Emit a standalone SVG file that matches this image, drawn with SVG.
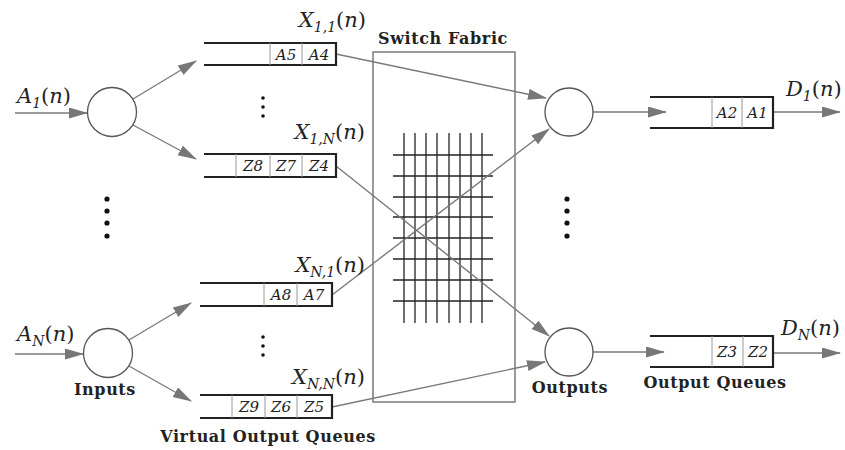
<svg xmlns="http://www.w3.org/2000/svg" width="845" height="450" viewBox="0 0 845 450">
<defs>
<marker id="ah" markerUnits="userSpaceOnUse" markerWidth="20" markerHeight="12" refX="18" refY="5.5" orient="auto">
<path d="M0,0 L19,5.5 L0,11 z" fill="#777"/>
</marker>
<style>
.conn{stroke:#7a7a7a;stroke-width:1.4;fill:none;marker-end:url(#ah)}
.node{fill:#fff;stroke:#555;stroke-width:1.3}
.qe{stroke:#222;stroke-width:2.2;fill:none}
.qd{stroke:#999;stroke-width:1}
.cell{font-family:"DejaVu Serif","Liberation Serif",serif;font-style:italic;font-size:15px;fill:#222;text-anchor:middle}
.math{font-family:"DejaVu Serif","Liberation Serif",serif;font-size:21px;fill:#222}
.it{font-style:italic}
.sub{font-size:14px;font-style:italic}
.lbl{font-family:"DejaVu Serif","Liberation Serif",serif;font-weight:bold;font-size:16px;letter-spacing:0.6px;fill:#222;text-anchor:middle}
.grid{stroke:#222;stroke-width:1.3}
.dot{fill:#111}
</style>
</defs>
<rect width="845" height="450" fill="#fff"/>

<g id="switch-fabric">
<rect x="373" y="52" width="142" height="350" fill="none" stroke="#666" stroke-width="1.3"/>
<text class="lbl" x="443" y="44">Switch Fabric</text>
<g class="grid">
<line x1="404" y1="133" x2="404" y2="323"/>
<line x1="415" y1="133" x2="415" y2="323"/>
<line x1="426" y1="133" x2="426" y2="323"/>
<line x1="437" y1="133" x2="437" y2="323"/>
<line x1="449" y1="133" x2="449" y2="323"/>
<line x1="460" y1="133" x2="460" y2="323"/>
<line x1="471" y1="133" x2="471" y2="323"/>
<line x1="482" y1="133" x2="482" y2="323"/>
<line x1="393" y1="155" x2="493" y2="155"/>
<line x1="393" y1="176" x2="493" y2="176"/>
<line x1="393" y1="197" x2="493" y2="197"/>
<line x1="393" y1="217" x2="493" y2="217"/>
<line x1="393" y1="238" x2="493" y2="238"/>
<line x1="393" y1="259" x2="493" y2="259"/>
<line x1="393" y1="280" x2="493" y2="280"/>
<line x1="393" y1="301" x2="493" y2="301"/>
</g>
</g>

<g id="connectors">
<line class="conn" x1="15" y1="113" x2="87" y2="113"/>
<line class="conn" x1="133" y1="99" x2="196" y2="61"/>
<line class="conn" x1="133" y1="125" x2="196" y2="159"/>
<line class="conn" x1="15" y1="354" x2="83" y2="354"/>
<line class="conn" x1="129" y1="340" x2="191" y2="303"/>
<line class="conn" x1="129" y1="366" x2="191" y2="401"/>
<line class="conn" x1="336" y1="54" x2="546" y2="98"/>
<line class="conn" x1="336" y1="166" x2="549" y2="336"/>
<line class="conn" x1="332" y1="295" x2="549" y2="129"/>
<line class="conn" x1="332" y1="407" x2="545" y2="362"/>
<line class="conn" x1="593" y1="112" x2="666" y2="112"/>
<line class="conn" x1="593" y1="352" x2="664" y2="352"/>
<line class="conn" x1="773" y1="112" x2="840" y2="112"/>
<line class="conn" x1="773" y1="353" x2="840" y2="353"/>
</g>

<g id="input-1">
<circle class="node" cx="112" cy="112" r="24.5"/>
<text class="math" x="17" y="103"><tspan class="it">A</tspan><tspan class="sub" dy="5">1</tspan><tspan dy="-5">(</tspan><tspan class="it">n</tspan>)</text>
</g>

<g id="input-N">
<circle class="node" cx="108" cy="353" r="24.5"/>
<text class="math" x="17" y="341"><tspan class="it">A</tspan><tspan class="sub" dy="5">N</tspan><tspan dy="-5">(</tspan><tspan class="it">n</tspan>)</text>
<text class="lbl" x="105" y="395">Inputs</text>
</g>

<g id="voq-1-1">
<line class="qe" x1="204" y1="43" x2="337" y2="43"/>
<line class="qe" x1="204" y1="65" x2="337" y2="65"/>
<line class="qe" x1="336" y1="42" x2="336" y2="66"/>
<line class="qd" x1="270" y1="43" x2="270" y2="65"/>
<line class="qd" x1="302" y1="43" x2="302" y2="65"/>
<text class="cell" x="286" y="59.5">A5</text>
<text class="cell" x="319" y="59.5">A4</text>
<text class="math" x="366" y="27" text-anchor="end"><tspan class="it">X</tspan><tspan class="sub" dy="5">1,1</tspan><tspan dy="-5">(</tspan><tspan class="it">n</tspan>)</text>
</g>

<g id="voq-1-N">
<line class="qe" x1="204" y1="154" x2="337" y2="154"/>
<line class="qe" x1="204" y1="177" x2="337" y2="177"/>
<line class="qe" x1="336" y1="153" x2="336" y2="178"/>
<line class="qd" x1="236" y1="154" x2="236" y2="177"/>
<line class="qd" x1="270" y1="154" x2="270" y2="177"/>
<line class="qd" x1="302" y1="154" x2="302" y2="177"/>
<text class="cell" x="253" y="171">Z8</text>
<text class="cell" x="286" y="171">Z7</text>
<text class="cell" x="319" y="171">Z4</text>
<text class="math" x="365" y="139" text-anchor="end"><tspan class="it">X</tspan><tspan class="sub" dy="5">1,N</tspan><tspan dy="-5">(</tspan><tspan class="it">n</tspan>)</text>
</g>

<g id="voq-N-1">
<line class="qe" x1="200" y1="283" x2="333" y2="283"/>
<line class="qe" x1="200" y1="306" x2="333" y2="306"/>
<line class="qe" x1="332" y1="282" x2="332" y2="307"/>
<line class="qd" x1="264" y1="283" x2="264" y2="306"/>
<line class="qd" x1="297" y1="283" x2="297" y2="306"/>
<text class="cell" x="281" y="300">A8</text>
<text class="cell" x="314" y="300">A7</text>
<text class="math" x="365" y="272" text-anchor="end"><tspan class="it">X</tspan><tspan class="sub" dy="5">N,1</tspan><tspan dy="-5">(</tspan><tspan class="it">n</tspan>)</text>
</g>

<g id="voq-N-N">
<line class="qe" x1="200" y1="395" x2="333" y2="395"/>
<line class="qe" x1="200" y1="418" x2="333" y2="418"/>
<line class="qe" x1="332" y1="394" x2="332" y2="419"/>
<line class="qd" x1="232" y1="395" x2="232" y2="418"/>
<line class="qd" x1="265" y1="395" x2="265" y2="418"/>
<line class="qd" x1="297" y1="395" x2="297" y2="418"/>
<text class="cell" x="249" y="412">Z9</text>
<text class="cell" x="281" y="412">Z6</text>
<text class="cell" x="314" y="412">Z5</text>
<text class="math" x="365" y="384" text-anchor="end"><tspan class="it">X</tspan><tspan class="sub" dy="5">N,N</tspan><tspan dy="-5">(</tspan><tspan class="it">n</tspan>)</text>
<text class="lbl" x="268" y="442">Virtual Output Queues</text>
</g>

<g id="output-1">
<circle class="node" cx="569" cy="112" r="24"/>
</g>

<g id="output-N">
<circle class="node" cx="569" cy="352" r="24"/>
<text class="lbl" x="570" y="393">Outputs</text>
</g>

<g id="oq-1">
<line class="qe" x1="650" y1="97" x2="774" y2="97"/>
<line class="qe" x1="650" y1="128" x2="774" y2="128"/>
<line class="qe" x1="773" y1="96" x2="773" y2="129"/>
<line class="qd" x1="712" y1="97" x2="712" y2="128"/>
<line class="qd" x1="742" y1="97" x2="742" y2="128"/>
<text class="cell" x="727" y="118">A2</text>
<text class="cell" x="757.5" y="118">A1</text>
<text class="math" x="786" y="96"><tspan class="it">D</tspan><tspan class="sub" dy="5">1</tspan><tspan dy="-5">(</tspan><tspan class="it">n</tspan>)</text>
</g>

<g id="oq-N">
<line class="qe" x1="650" y1="336" x2="774" y2="336"/>
<line class="qe" x1="650" y1="367" x2="774" y2="367"/>
<line class="qe" x1="773" y1="335" x2="773" y2="368"/>
<line class="qd" x1="712" y1="336" x2="712" y2="367"/>
<line class="qd" x1="743" y1="336" x2="743" y2="367"/>
<text class="cell" x="727" y="357">Z3</text>
<text class="cell" x="758" y="357">Z2</text>
<text class="math" x="781" y="335"><tspan class="it">D</tspan><tspan class="sub" dy="5">N</tspan><tspan dy="-5">(</tspan><tspan class="it">n</tspan>)</text>
<text class="lbl" x="715" y="388">Output Queues</text>
</g>

<g id="ellipses">
<circle class="dot" cx="107" cy="199" r="2.6"/>
<circle class="dot" cx="107" cy="211" r="2.6"/>
<circle class="dot" cx="107" cy="223" r="2.6"/>
<circle class="dot" cx="107" cy="236" r="2.6"/>
<circle class="dot" cx="567" cy="199" r="2.6"/>
<circle class="dot" cx="567" cy="211" r="2.6"/>
<circle class="dot" cx="567" cy="223" r="2.6"/>
<circle class="dot" cx="567" cy="236" r="2.6"/>
<circle class="dot" cx="263" cy="98" r="1.8"/>
<circle class="dot" cx="263" cy="107" r="1.8"/>
<circle class="dot" cx="263" cy="116" r="1.8"/>
<circle class="dot" cx="263" cy="337" r="1.8"/>
<circle class="dot" cx="263" cy="346" r="1.8"/>
<circle class="dot" cx="263" cy="355" r="1.8"/>
</g>
</svg>
